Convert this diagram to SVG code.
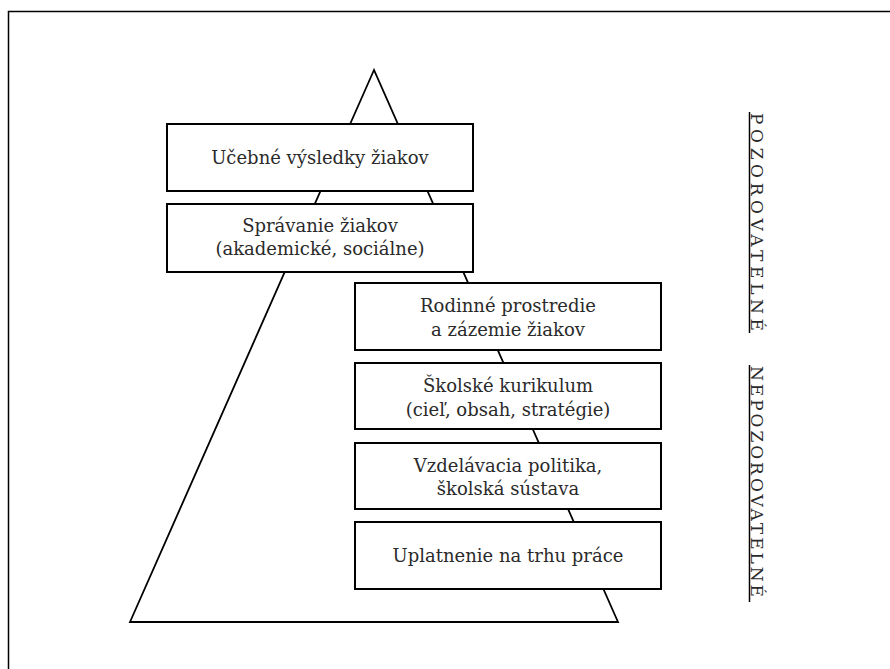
<svg xmlns="http://www.w3.org/2000/svg" width="890" height="669" viewBox="0 0 890 669">
<style>
.box{fill:#fff;stroke:#000;stroke-width:2}
.t{font-family:"DejaVu Serif","Liberation Serif",serif;font-size:18px;fill:#2a2a2a;text-anchor:middle}
.v{font-family:"DejaVu Serif","Liberation Serif",serif;font-size:17px;fill:#2a2a2a}
.ln{stroke:#000;stroke-width:1.5;fill:none}
</style>
<rect width="890" height="669" fill="#fff"/>
<path d="M8.5,669 V11.5 H890" class="ln" stroke-width="2"/>
<g id="connectors">
<polygon id="pyramid" points="374,70 130,622 618,622" fill="#fff" stroke="#000" stroke-width="1.8"/>
</g>
<g id="n1"><rect class="box" x="167" y="124" width="306" height="67"/><text class="t" x="320" y="164">Učebné výsledky žiakov</text></g>
<g id="n2"><rect class="box" x="167" y="204" width="306" height="68"/><text class="t" x="320" y="232">Správanie žiakov</text><text class="t" x="320" y="255">(akademické, sociálne)</text></g>
<g id="n3"><rect class="box" x="355" y="283" width="306" height="67"/><text class="t" x="508" y="312">Rodinné prostredie</text><text class="t" x="508" y="336">a zázemie žiakov</text></g>
<g id="n4"><rect class="box" x="355" y="363" width="306" height="66"/><text class="t" x="508" y="392">Školské kurikulum</text><text class="t" x="508" y="416">(cieľ, obsah, stratégie)</text></g>
<g id="n5"><rect class="box" x="355" y="443" width="306" height="66"/><text class="t" x="508" y="472">Vzdelávacia politika,</text><text class="t" x="508" y="495">školská sústava</text></g>
<g id="n6"><rect class="box" x="355" y="522" width="306" height="67"/><text class="t" x="508" y="562">Uplatnenie na trhu práce</text></g>
<g id="label-obs">
<text class="v" transform="translate(751,113) rotate(90)" textLength="218" lengthAdjust="spacing">POZOROVATELNÉ</text>
<line class="ln" x1="749.5" y1="112" x2="749.5" y2="333" stroke-width="1"/>
</g>
<g id="label-unobs">
<text class="v" transform="translate(751,366) rotate(90)" textLength="231" lengthAdjust="spacing">NEPOZOROVATELNÉ</text>
<line class="ln" x1="749.5" y1="365" x2="749.5" y2="602" stroke-width="1"/>
</g>
</svg>
